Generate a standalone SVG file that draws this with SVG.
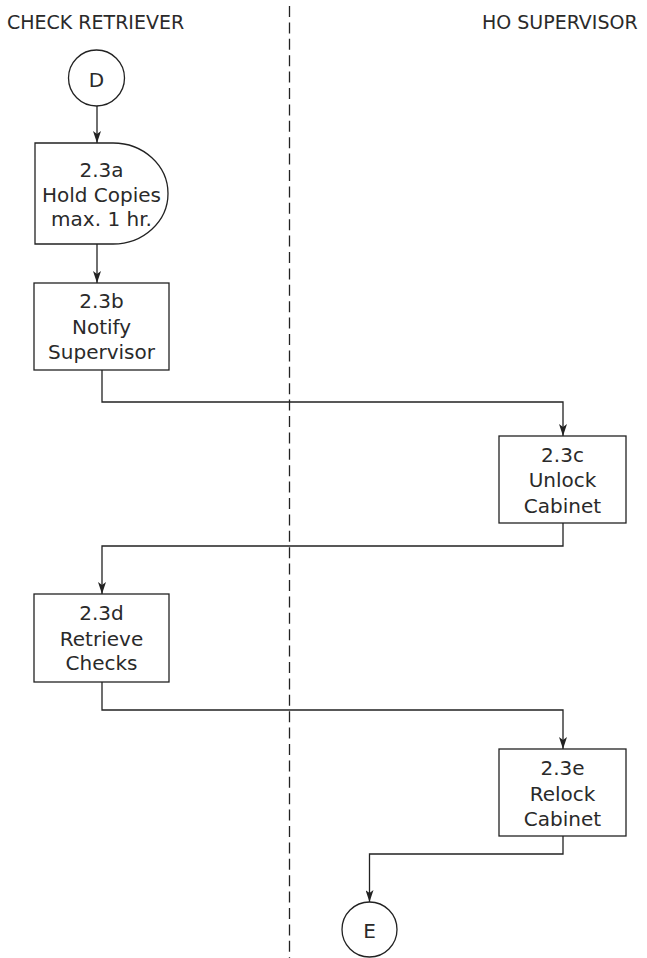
<svg xmlns="http://www.w3.org/2000/svg" width="647" height="958" viewBox="0 0 647 958">
<defs>
<marker id="arr" viewBox="0 0 12 8" refX="12" refY="4" markerWidth="12" markerHeight="8" markerUnits="userSpaceOnUse" orient="auto">
<path d="M0,0 L12,4 L0,8 L3,4 z" fill="#222"/>
</marker>
<style>
.shape{fill:#fff;stroke:#222;stroke-width:1.3}
.conn{fill:none;stroke:#222;stroke-width:1.3;marker-end:url(#arr)}
.lane{fill:none;stroke:#222;stroke-width:1.3;stroke-dasharray:11 5.4}
text{font-family:"DejaVu Sans","Liberation Sans",sans-serif;fill:#2a2a2a}
.hdr{font-size:19px}
.lbl{font-size:20px;text-anchor:middle}
</style>
</defs>
<rect width="647" height="958" fill="#fff"/>
<g id="lanes">
<line class="lane" x1="289.5" y1="6" x2="289.5" y2="958"/>
<text class="hdr" x="7" y="29">CHECK RETRIEVER</text>
<text class="hdr" x="482" y="29">HO SUPERVISOR</text>
</g>
<g id="connectors">
<path class="conn" d="M97,106 V143"/>
<path class="conn" d="M97,244 V283"/>
<path class="conn" d="M102,370 V402 H563 V436"/>
<path class="conn" d="M563,523 V546 H102 V594"/>
<path class="conn" d="M102,682 V710 H563 V749"/>
<path class="conn" d="M563,836 V854 H369.5 V902"/>
</g>
<g id="nodeD">
<circle class="shape" cx="96.5" cy="78" r="28"/>
<text class="lbl" x="96.5" y="87">D</text>
</g>
<g id="node23a">
<path class="shape" d="M35,143 H113 A55,50.5 0 0 1 113,244 H35 Z"/>
<text class="lbl" x="101.5" y="177">2.3a</text>
<text class="lbl" x="101.5" y="202">Hold Copies</text>
<text class="lbl" x="101.5" y="226">max. 1 hr.</text>
</g>
<g id="node23b">
<rect class="shape" x="34" y="283" width="135" height="87"/>
<text class="lbl" x="101.5" y="308">2.3b</text>
<text class="lbl" x="101.5" y="334">Notify</text>
<text class="lbl" x="101.5" y="359">Supervisor</text>
</g>
<g id="node23c">
<rect class="shape" x="499" y="436" width="127" height="87"/>
<text class="lbl" x="562.5" y="462">2.3c</text>
<text class="lbl" x="562.5" y="487">Unlock</text>
<text class="lbl" x="562.5" y="513">Cabinet</text>
</g>
<g id="node23d">
<rect class="shape" x="34" y="594" width="135" height="88"/>
<text class="lbl" x="101.5" y="620">2.3d</text>
<text class="lbl" x="101.5" y="646">Retrieve</text>
<text class="lbl" x="101.5" y="670">Checks</text>
</g>
<g id="node23e">
<rect class="shape" x="499" y="749" width="127" height="87"/>
<text class="lbl" x="562.5" y="775">2.3e</text>
<text class="lbl" x="562.5" y="801">Relock</text>
<text class="lbl" x="562.5" y="826">Cabinet</text>
</g>
<g id="nodeE">
<circle class="shape" cx="369.5" cy="929.5" r="27.5"/>
<text class="lbl" x="369.5" y="938">E</text>
</g>
</svg>
